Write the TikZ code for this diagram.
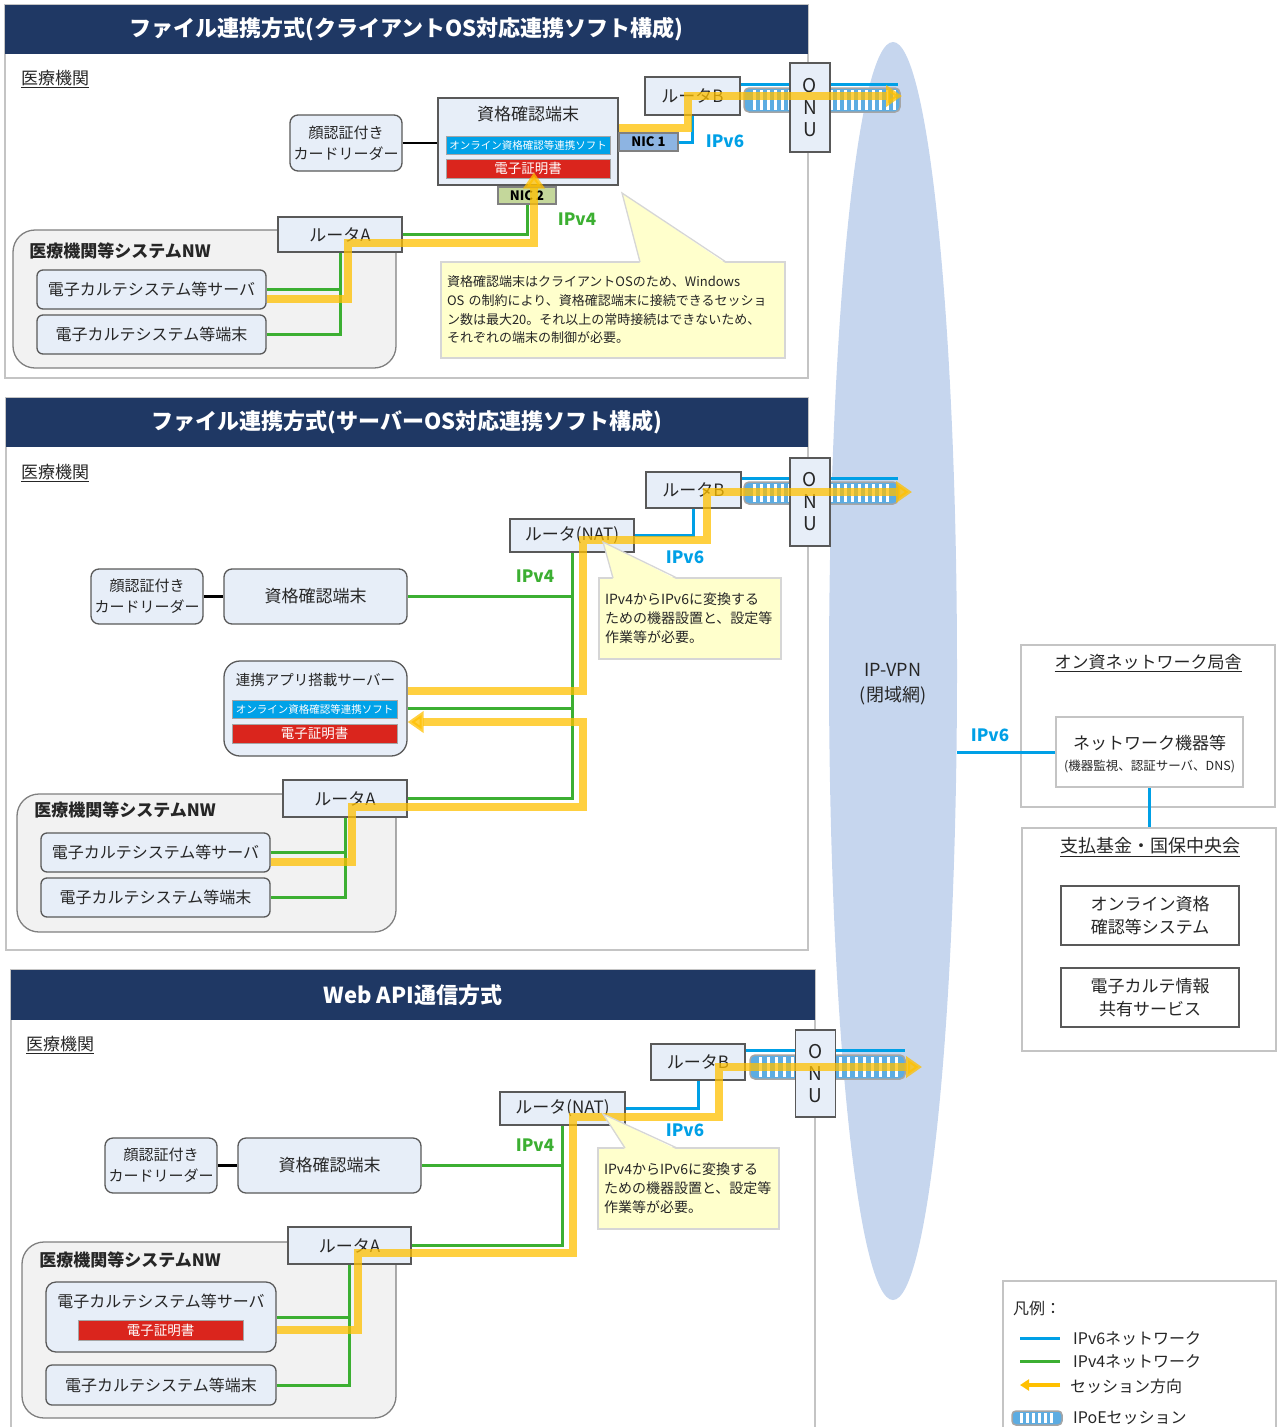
\documentclass[tikz,border=0pt]{standalone}
\usepackage{fontspec}
\setmainfont{Noto Sans CJK JP}
\usepackage{xcolor}
\usepackage{tikz}
\usetikzlibrary{arrows.meta, positioning, calc, shapes.geometric}
\definecolor{mynavy}{RGB}{31,56,100}
\definecolor{mytext}{RGB}{38,38,38}
\definecolor{myfill}{RGB}{231,238,248}
\definecolor{myline}{RGB}{89,89,89}
\definecolor{mynwfill}{RGB}{242,242,242}
\definecolor{mynwline}{RGB}{128,128,128}
\definecolor{myframe}{RGB}{196,196,196}
\definecolor{myblue}{RGB}{0,160,230}
\definecolor{mygreen}{RGB}{60,175,50}
\definecolor{myyellow}{RGB}{255,192,0}
\definecolor{mycyan}{RGB}{0,162,232}
\definecolor{myred}{RGB}{218,37,29}
\definecolor{mynote}{RGB}{255,255,204}
\definecolor{mynoteline}{RGB}{214,214,214}
\definecolor{myvpn}{RGB}{198,214,238}
\definecolor{mynic1}{RGB}{141,180,226}
\definecolor{mynic2}{RGB}{196,215,155}
\definecolor{mytube}{RGB}{92,172,226}
\definecolor{mytubeline}{RGB}{165,165,165}
\newcommand{\jpsz}[2]{\fontsize{#1pt}{#2pt}\selectfont}
\tikzset{
  frame/.style={draw=myframe, line width=1.5pt},
  hdr/.style={rectangle, fill=mynavy, text=white, inner sep=0pt,
    font=\jpsz{22}{26}\bfseries},
  org/.style={font=\jpsz{17}{20}, text=mytext, inner sep=1pt},
  box/.style={rectangle, draw=myline, fill=myfill, line width=1.3pt,
    inner sep=0pt, align=center, font=\jpsz{17}{21}, text=mytext},
  rbox/.style={box, rounded corners=8pt},
  cardbox/.style={box, rounded corners=8pt, font=\jpsz{15}{21}},
  emrbox/.style={box, rounded corners=6pt, font=\jpsz{16}{21}},
  boxtxt/.style={font=\jpsz{17}{21}, text=mytext, inner sep=0pt},
  nwbox/.style={rectangle, draw=mynwline, fill=mynwfill, line width=1.3pt,
    rounded corners=22pt},
  nwlbl/.style={font=\jpsz{17}{20}\bfseries, text=mytext, inner sep=0pt},
  softbar/.style={rectangle, draw=mytubeline, fill=mycyan, text=white,
    line width=1pt, inner sep=0pt, font=\jpsz{10.5}{12}},
  certbar/.style={rectangle, draw=mytubeline, fill=myred, text=white,
    line width=1pt, inner sep=0pt, font=\jpsz{13.5}{15}},
  nicbox/.style={rectangle, draw=mynwline, line width=1.3pt, inner sep=0pt,
    font=\jpsz{13}{15}\bfseries, text=black},
  onu/.style={box, minimum width=40pt, font=\jpsz{19}{22}},
  note/.style={rectangle, draw=mynoteline, fill=mynote, line width=1.3pt,
    align=left, inner sep=6pt, text=mytext},
  vpn/.style={ellipse, fill=myvpn, inner sep=0pt},
  plain/.style={rectangle, draw=myframe, line width=1.5pt, inner sep=0pt},
  wbox/.style={rectangle, draw=myline, fill=white, line width=1.3pt,
    inner sep=0pt, align=center, font=\jpsz{17}{23}, text=mytext},
  tube/.style={draw=mytubeline, fill=mytube, line width=1.5pt, rounded corners=5pt},
  v6/.style={draw=myblue, line width=3pt},
  v4/.style={draw=mygreen, line width=3pt},
  link/.style={draw=black, line width=2.8pt},
  sess/.style={draw=myyellow, line width=8pt, opacity=0.75},
  sessarrow/.style={sess, -{Triangle[length=16pt, width=21pt]}},
  v6lbl/.style={font=\jpsz{17}{20}\bfseries, text=myblue, inner sep=0pt},
  v4lbl/.style={font=\jpsz{17}{20}\bfseries, text=mygreen, inner sep=0pt},
  lgd/.style={font=\jpsz{16}{19}, text=mytext, inner sep=0pt, anchor=west}
}
\begin{document}
\begin{tikzpicture}[x=1pt, y=-1pt]
  \useasboundingbox (0,0) rectangle (1277,1427);

  % IP-VPN
  \node[vpn, minimum width=128pt, minimum height=1258pt] (vpn) at (893,671) {};
  \node[font=\jpsz{18}{25}, align=center, text=mytext] (vpnlbl) at (893,684) {IP-VPN\\(閉域網)};

  % ---------- Section 1: client OS ----------
  \draw[frame] (5,5) rectangle (808,378);
  \node[hdr, minimum width=803pt, minimum height=49pt] (hdr1) at (406.5,29.5)
    {ファイル連携方式(クライアントOS対応連携ソフト構成)};
  \node[org] (org1) at (55,79) {\underline{医療機関}};

  \node[nwbox, minimum width=383pt, minimum height=138pt] (nw1) at (204.5,299) {};
  \node[nwlbl] (nw1t) at (120,251) {医療機関等システムNW};
  \node[emrbox, minimum width=229pt, minimum height=39pt] (srv1) at (151.5,289.5) {電子カルテシステム等サーバ};
  \node[emrbox, minimum width=229pt, minimum height=39pt] (ter1) at (151.5,334.5) {電子カルテシステム等端末};
  \node[box, minimum width=124pt, minimum height=35pt] (rA1) at (340,234.5) {ルータA};

  \node[cardbox, minimum width=112pt, minimum height=56pt] (card1) at (346,143) {顔認証付き\\カードリーダー};
  \node[box, minimum width=180pt, minimum height=87pt] (term1) at (528,141.5) {};
  \node[boxtxt] (term1t) at (528,114) {資格確認端末};
  \node[softbar, minimum width=164pt, minimum height=18pt] (soft1) at (528,145) {オンライン資格確認等連携ソフト};
  \node[certbar, minimum width=164pt, minimum height=19pt] (cert1) at (528,168.5) {電子証明書};
  \node[nicbox, fill=mynic1, minimum width=59pt, minimum height=18pt] (nic1) at (648.5,142) {NIC 1};
  \node[nicbox, fill=mynic2, minimum width=58pt, minimum height=17pt] (nic2) at (527,195.5) {NIC 2};
  \node[box, minimum width=95pt, minimum height=38pt] (rB1) at (692.5,96) {ルータB};

  \draw[tube] (744,88) rectangle (900,112);
  \foreach \x in {753,760,...,893} \fill[white] (\x,90) rectangle ++(3,20);
  \coordinate (v6end1) at (898,84);
  \draw[v6] ([yshift=12pt]rB1.east) -- (v6end1);
  \node[onu, minimum height=89pt] (onu1) at (810,107.5) {O\\N\\U};

  \draw[link] (card1.east) -- (card1.east -| term1.west);
  \draw[v4] (rA1.east) -| (nic2.south);
  \draw[v4] (srv1.east) -| (rA1.south);
  \draw[v4] (ter1.east) -| (rA1.south);
  \draw[v6] (nic1.east) -| (rB1.south);
  \node[v4lbl] (ip4a) at (577,219) {IPv4};
  \node[v6lbl] (ip6a) at (725,141) {IPv6};

  \coordinate (s1a) at (348,243);
  \draw[sessarrow] ([yshift=-9pt]srv1.east) -| (s1a) -| ([xshift=6pt,yshift=6pt]cert1.south);
  \coordinate (s1b) at (688,96);
  \coordinate (tip1) at (902,96);
  \draw[sessarrow] ([yshift=13.5pt]term1.east) -| (s1b) -- (tip1);

  \node[note, text width=332pt, minimum height=96pt, font=\jpsz{13}{18.7}] (note1) at (613,310)
    {資格確認端末はクライアントOSのため、Windows\\OS の制約により、資格確認端末に接続できるセッショ\\ン数は最大20。それ以上の常時接続はできないため、\\それぞれの端末の制御が必要。};
  \fill[mynote] (640,263.6) -- (622,193) -- (726,263.6) -- cycle;
  \draw[draw=mynoteline, line width=1.3pt] (640,262) -- (622,193) -- (726,262);

  % ---------- Section 2: server OS ----------
  \draw[frame] (6,398) rectangle (808,950);
  \node[hdr, minimum width=802pt, minimum height=49pt] (hdr2) at (407,422.5)
    {ファイル連携方式(サーバーOS対応連携ソフト構成)};
  \node[org] (org2) at (55,473) {\underline{医療機関}};

  \node[nwbox, minimum width=379pt, minimum height=138pt] (nw2) at (206.5,863) {};
  \node[nwlbl] (nw2t) at (125,810) {医療機関等システムNW};
  \node[emrbox, minimum width=229pt, minimum height=39pt] (srv2) at (155.5,852.5) {電子カルテシステム等サーバ};
  \node[emrbox, minimum width=229pt, minimum height=39pt] (ter2) at (155.5,897.5) {電子カルテシステム等端末};
  \node[box, minimum width=124pt, minimum height=37pt] (rA2) at (345,798.5) {ルータA};

  \node[cardbox, minimum width=112pt, minimum height=55pt] (card2) at (147,596.5) {顔認証付き\\カードリーダー};
  \node[rbox, minimum width=183pt, minimum height=55pt] (term2) at (315.5,596.5) {資格確認端末};
  \node[box, rounded corners=16pt, minimum width=183pt, minimum height=95pt] (app2) at (315.5,708.5) {};
  \node[boxtxt, font=\jpsz{14.5}{18}] (app2t) at (315.5,680) {連携アプリ搭載サーバー};
  \node[softbar, minimum width=165pt, minimum height=18pt] (soft2) at (314.5,709) {オンライン資格確認等連携ソフト};
  \node[certbar, minimum width=165pt, minimum height=19pt] (cert2) at (314.5,733.5) {電子証明書};

  \node[box, minimum width=124pt, minimum height=33pt] (nat2) at (572,535.5) {ルータ(NAT)};
  \node[box, minimum width=95pt, minimum height=36pt] (rB2) at (693.5,490) {ルータB};

  \draw[tube] (744,482) rectangle (898,504);
  \foreach \x in {753,760,...,891} \fill[white] (\x,484) rectangle ++(3,18);
  \coordinate (v6end2) at (898,478);
  \draw[v6] ([yshift=12pt]rB2.east) -- (v6end2);
  \node[onu, minimum height=88pt] (onu2) at (810,502) {O\\N\\U};

  \draw[link] (card2.east) -- (card2.east -| term2.west);
  \draw[v4] (term2.east) -| (nat2.south);
  \draw[v4] (app2.east) -| (nat2.south);
  \draw[v4] (rA2.east) -| (nat2.south);
  \draw[v4] (srv2.east) -| (rA2.south);
  \draw[v4] (ter2.east) -| (rA2.south);
  \draw[v6] (nat2.east) -| (rB2.south);
  \node[v4lbl] (ip4b) at (535,576) {IPv4};
  \node[v6lbl] (ip6b) at (685,557) {IPv6};

  \coordinate (s2a) at (583,540);
  \coordinate (s2b) at (707,492);
  \coordinate (tip2) at (912,492);
  \draw[sessarrow] ([yshift=18pt]app2.east) -| (s2a) -| (s2b) -- (tip2);
  \coordinate (s2c) at (352,807);
  \coordinate (s2d) at (583,722);
  \draw[sessarrow] ([yshift=-9.5pt]srv2.east) -| (s2c) -| (s2d) -- ([yshift=-13.5pt]app2.east);

  \node[note, text width=170pt, minimum height=81pt, font=\jpsz{14}{19}] (note2) at (690,618.5)
    {IPv4からIPv6に変換する\\ための機器設置と、設定等\\作業等が必要。};
  \fill[mynote] (613,579.6) -- (603,542) -- (677,579.6) -- cycle;
  \draw[draw=mynoteline, line width=1.3pt] (613,578) -- (603,542) -- (677,578);

  % ---------- Section 3: Web API ----------
  \draw[frame] (11,970) rectangle (815,1440);
  \node[hdr, minimum width=804pt, minimum height=50pt] (hdr3) at (413,995) {Web API通信方式};
  \node[org] (org3) at (60,1045) {\underline{医療機関}};

  \node[nwbox, minimum width=374pt, minimum height=176pt] (nw3) at (209,1330) {};
  \node[nwlbl] (nw3t) at (130,1260) {医療機関等システムNW};
  \node[box, rounded corners=10pt, minimum width=230pt, minimum height=70pt] (srv3) at (161,1317) {};
  \node[boxtxt, font=\jpsz{16}{21}] (srv3t) at (161,1301) {電子カルテシステム等サーバ};
  \node[certbar, minimum width=165pt, minimum height=20pt] (cert3) at (160.5,1330) {電子証明書};
  \node[emrbox, minimum width=230pt, minimum height=40pt] (ter3) at (161,1385) {電子カルテシステム等端末};
  \node[box, minimum width=123pt, minimum height=37pt] (rA3) at (349.5,1245.5) {ルータA};

  \node[cardbox, minimum width=112pt, minimum height=55pt] (card3) at (161,1165.5) {顔認証付き\\カードリーダー};
  \node[rbox, minimum width=183pt, minimum height=55pt] (term3) at (329.5,1165.5) {資格確認端末};
  \node[box, minimum width=125pt, minimum height=33pt] (nat3) at (562.5,1108.5) {ルータ(NAT)};
  \node[box, minimum width=94pt, minimum height=36pt] (rB3) at (698,1062) {ルータB};

  \draw[tube] (750,1055) rectangle (905,1079);
  \foreach \x in {759,767,...,895} \fill[white] (\x,1057) rectangle ++(3,20);
  \coordinate (v6end3) at (905,1050);
  \draw[v6] ([yshift=12pt]rB3.east) -- (v6end3);
  \node[onu, minimum height=87pt] (onu3) at (815.5,1073.5) {O\\N\\U};

  \draw[link] (card3.east) -- (card3.east -| term3.west);
  \draw[v4] (term3.east) -| (nat3.south);
  \draw[v4] (rA3.east) -| (nat3.south);
  \draw[v4] (srv3.east) -| (rA3.south);
  \draw[v4] (ter3.east) -| (rA3.south);
  \draw[v6] (nat3.east) -| (rB3.south);
  \node[v4lbl] (ip4c) at (535,1145) {IPv4};
  \node[v6lbl] (ip6c) at (685,1130) {IPv6};

  \coordinate (s3a) at (358,1253);
  \coordinate (s3b) at (573,1117);
  \coordinate (s3c) at (719,1067);
  \coordinate (tip3) at (922,1067);
  \draw[sessarrow] ([yshift=-13pt]srv3.east) -| (s3a) -| (s3b) -| (s3c) -- (tip3);

  \node[note, text width=169pt, minimum height=81pt, font=\jpsz{14}{19}] (note3) at (688.5,1188.5)
    {IPv4からIPv6に変換する\\ための機器設置と、設定等\\作業等が必要。};
  \fill[mynote] (625,1149.6) -- (603,1114) -- (677,1149.6) -- cycle;
  \draw[draw=mynoteline, line width=1.3pt] (625,1148) -- (603,1114) -- (677,1148);

  % ---------- Right side ----------
  \node[plain, minimum width=254pt, minimum height=162pt] (ons) at (1148,726) {};
  \node[org] (onst) at (1148,663) {\underline{オン資ネットワーク局舎}};
  \node[rectangle, draw=myframe, fill=white, line width=1.5pt, minimum width=187pt,
    minimum height=70pt] (netdev) at (1149.5,752) {};
  \node[boxtxt] (netdevt) at (1149.5,743) {ネットワーク機器等};
  \node[boxtxt, font=\jpsz{12.5}{15}] (netdevs) at (1149.5,766) {(機器監視、認証サーバ、DNS)};
  \node[plain, minimum width=254pt, minimum height=223pt] (kikin) at (1149,939.5) {};
  \node[org, font=\jpsz{18}{22}] (kikint) at (1150,847) {\underline{支払基金・国保中央会}};
  \node[wbox, minimum width=178pt, minimum height=59pt] (oq) at (1150,915.5) {オンライン資格\\確認等システム};
  \node[wbox, minimum width=178pt, minimum height=59pt] (ehr) at (1150,997.5) {電子カルテ情報\\共有サービス};

  \draw[v6] (netdev.west) -- (netdev.west -| vpn.east);
  \draw[v6] (netdev.south) -- (netdev.south |- kikin.north);
  \node[v6lbl] (ip6d) at (990,735) {IPv6};

  % ---------- Legend ----------
  \draw[frame] (1003,1281) rectangle (1276,1440);
  \node[lgd] (lgdt) at (1013,1308) {凡例：};
  \draw[v6] (1020,1338) -- (1060,1338);
  \node[lgd] (lgd6) at (1073,1339) {IPv6ネットワーク};
  \draw[v4] (1020,1361) -- (1060,1361);
  \node[lgd] (lgd4) at (1073,1362) {IPv4ネットワーク};
  \draw[draw=myyellow, line width=4pt, -{Triangle[length=9pt, width=11pt]}] (1060,1385) -- (1020,1385);
  \node[lgd] (lgds) at (1070,1386) {セッション方向};
  \draw[tube, rounded corners=4pt] (1012,1411) rectangle (1062,1425);
  \foreach \x in {1020,1026,...,1052} \fill[white] (\x,1413) rectangle ++(2.5,10);
  \node[lgd] (lgdp) at (1073,1418) {IPoEセッション};
\end{tikzpicture}
\end{document}
